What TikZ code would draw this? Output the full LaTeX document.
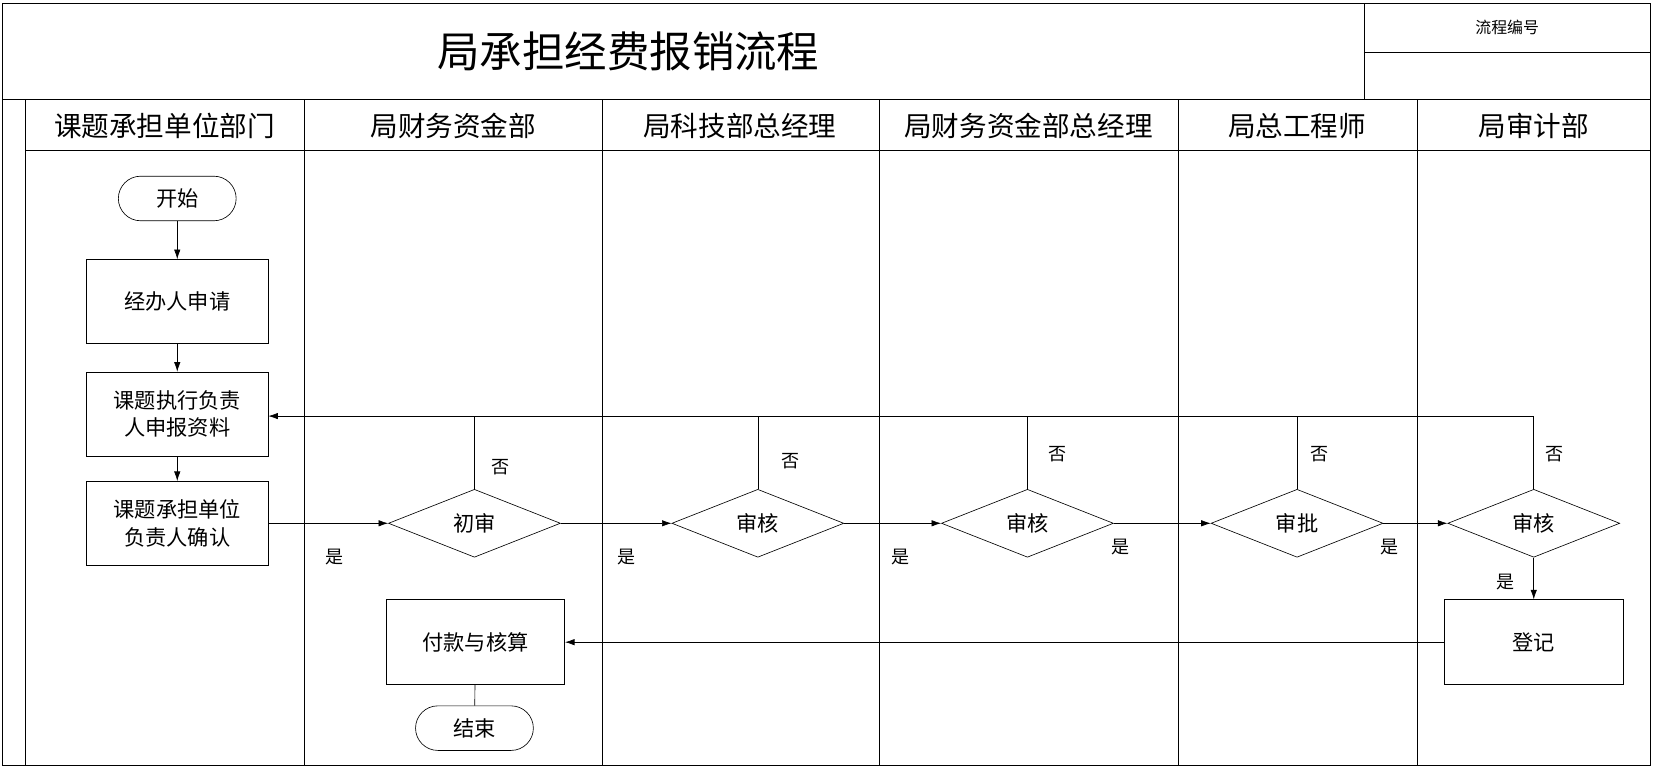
\documentclass[tikz,border=0pt]{standalone}
\usepackage{fontspec}
\setmainfont{Noto Sans CJK SC}
\usetikzlibrary{shapes.geometric,arrows.meta}
\begin{document}
\begin{tikzpicture}[x=1pt,y=-1pt,
 box/.style={draw,semithick,minimum width=171pt,minimum height=79pt,align=center,font=\fontsize{20}{26}\selectfont,inner sep=2pt},
 term/.style={draw,semithick,rounded corners=21pt,minimum width=111pt,minimum height=42pt,font=\fontsize{20}{24}\selectfont},
 dec/.style={draw,semithick,diamond,aspect=2.55,minimum width=162pt,minimum height=64pt,inner sep=0pt,font=\fontsize{20}{24}\selectfont},
 hd/.style={font=\fontsize{26}{30}\selectfont},
 lb/.style={font=\fontsize{17}{20}\selectfont},
 arr/.style={semithick,-{Latex[length=9pt,width=6pt]}}]
\useasboundingbox (0,0) rectangle (1563,723);
\draw[thick] (2,3) rectangle (1555,721);
\draw[thick] (2,94) -- (1555,94);
\draw[semithick] (1285,3) -- (1285,94);
\draw[semithick] (1285,49) -- (1555,49);
\draw[semithick] (24,94) -- (24,721);
\draw[semithick] (24,142) -- (1555,142);
\foreach \x in {287,567,828,1110,1335} \draw[semithick] (\x,94) -- (\x,721);
\node[font=\fontsize{40}{44}\selectfont] (title) at (592,48) {局承担经费报销流程};
\node[font=\fontsize{15}{18}\selectfont] (num) at (1420,26) {流程编号};
\node[hd] (h1) at (155,119) {课题承担单位部门};
\node[hd] (h2) at (427,119) {局财务资金部};
\node[hd] (h3) at (697,119) {局科技部总经理};
\node[hd] (h4) at (969,119) {局财务资金部总经理};
\node[hd] (h5) at (1222,119) {局总工程师};
\node[hd] (h6) at (1445,119) {局审计部};
\node[term] (start) at (167,187) {开始};
\node[box] (apply) at (167,284) {经办人申请};
\node[box] (report) at (167,390) {课题执行负责\\人申报资料};
\node[box] (confirm) at (167,493) {课题承担单位\\负责人确认};
\node[dec] (d1) at (447,493) {初审};
\node[dec] (d2) at (714,493) {审核};
\node[dec] (d3) at (968,493) {审核};
\node[dec] (d4) at (1222,493) {审批};
\node[dec] (d5) at (1445,493) {审核};
\node[box,minimum width=168pt,minimum height=80pt] (reg) at (1445,605) {登记};
\node[box,minimum width=168pt,minimum height=80pt] (pay) at (448,605) {付款与核算};
\node[term] (end) at (447,686) {结束};
\draw[arr] (start) -- (apply);
\draw[arr] (apply) -- (report);
\draw[arr] (report) -- (confirm);
\draw[arr] (confirm) -- (d1);
\draw[arr] (d1) -- (d2);
\draw[arr] (d2) -- (d3);
\draw[arr] (d3) -- (d4);
\draw[arr] (d4) -- (d5);
\draw[arr] (d5) -- (reg);
\draw[arr] (reg) -- (pay);
\draw[semithick] (pay) -- (end);
\coordinate (back) at (1445,392);
\draw[arr] (d5.north) -- (back) -- (report.east |- back);
\foreach \d in {d1,d2,d3,d4} \draw[semithick] (\d.north) -- (\d.north |- back);
\node[lb] (y1) at (315,525) {是};
\node[lb] (y2) at (590,525) {是};
\node[lb] (y3) at (848,525) {是};
\node[lb] (y4) at (1056,515) {是};
\node[lb] (y5) at (1309,515) {是};
\node[lb] (y6) at (1418,548) {是};
\node[lb] (n1) at (472,440) {否};
\node[lb] (n2) at (745,434) {否};
\node[lb] (n3) at (996,428) {否};
\node[lb] (n4) at (1243,428) {否};
\node[lb] (n5) at (1465,428) {否};
\end{tikzpicture}
\end{document}
